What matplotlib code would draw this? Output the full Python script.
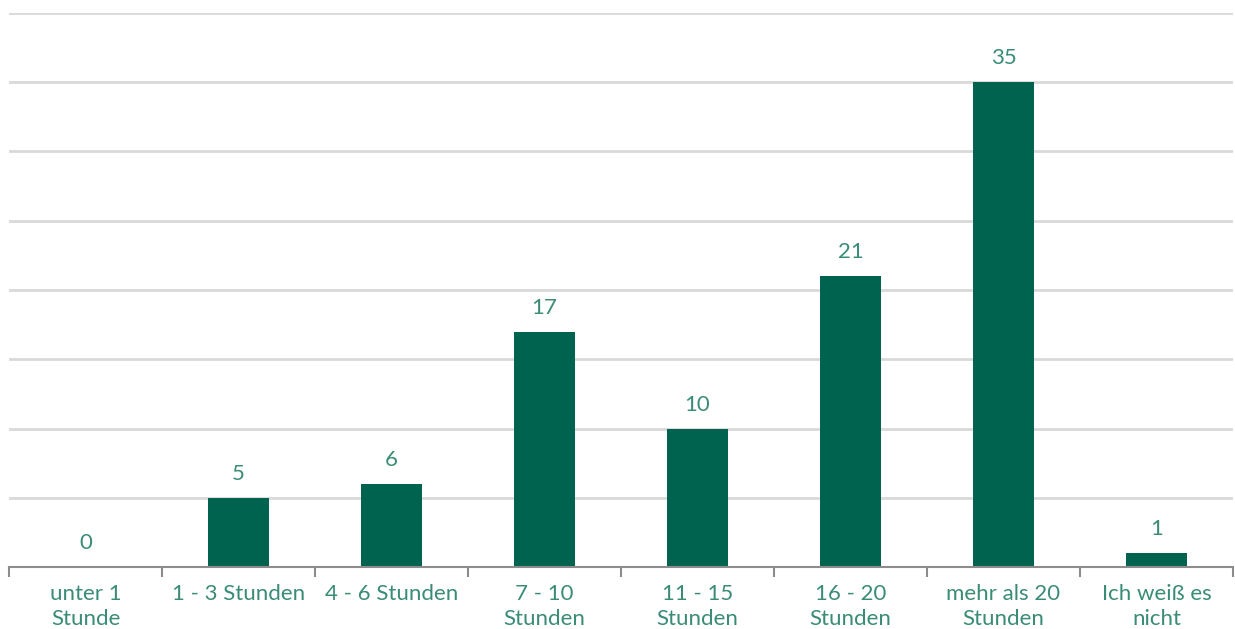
import numpy as np
import matplotlib.pyplot as plt

categories = ["unter 1\nStunde", "1 - 3 Stunden", "4 - 6 Stunden", "7 - 10\nStunden",
              "11 - 15\nStunden", "16 - 20\nStunden", "mehr als 20\nStunden", "Ich weiß es\nnicht"]
values = [0, 5, 6, 17, 10, 21, 35, 1]

BAR_COLOR = "#00634f"
TEXT_COLOR = "#3a8c77"

plt.rcParams['font.family'] = ['Lato', 'DejaVu Sans']

fig = plt.figure(figsize=(12.35, 6.29), dpi=100)
ax = fig.add_axes([9 / 1235, 1 - 567 / 629, 1224 / 1235, 554 / 629])

x = np.arange(len(categories))
bars = ax.bar(x, values, width=0.4, color=BAR_COLOR, zorder=3)
for xi, v in zip(x, values):
    ax.text(xi, v + 1.0, str(v), ha="center", va="bottom", color=TEXT_COLOR, fontsize=16)

ax.set_xlim(-0.5, len(categories) - 0.5)
ax.set_ylim(0, 40)
ax.set_yticks(np.arange(0, 41, 5))
ax.yaxis.grid(True, color="#d9d9d9", linewidth=2)
ax.tick_params(axis="y", length=0, labelleft=False)

ax.set_xticks(x)
ax.set_xticklabels(categories, color=TEXT_COLOR, fontsize=16, linespacing=1.35)
ax.set_xticks(np.arange(-0.5, len(categories)), minor=True)
ax.tick_params(axis="x", which="major", length=0, pad=12)
ax.tick_params(axis="x", which="minor", length=7, width=1.5, color="#8c8c8c")

for s in ["top", "right", "left"]:
    ax.spines[s].set_visible(False)
ax.spines["bottom"].set_color("#8c8c8c")
ax.spines["bottom"].set_linewidth(1.5)
ax.spines["bottom"].set_zorder(4)

fig.savefig("out.png", dpi=100)
